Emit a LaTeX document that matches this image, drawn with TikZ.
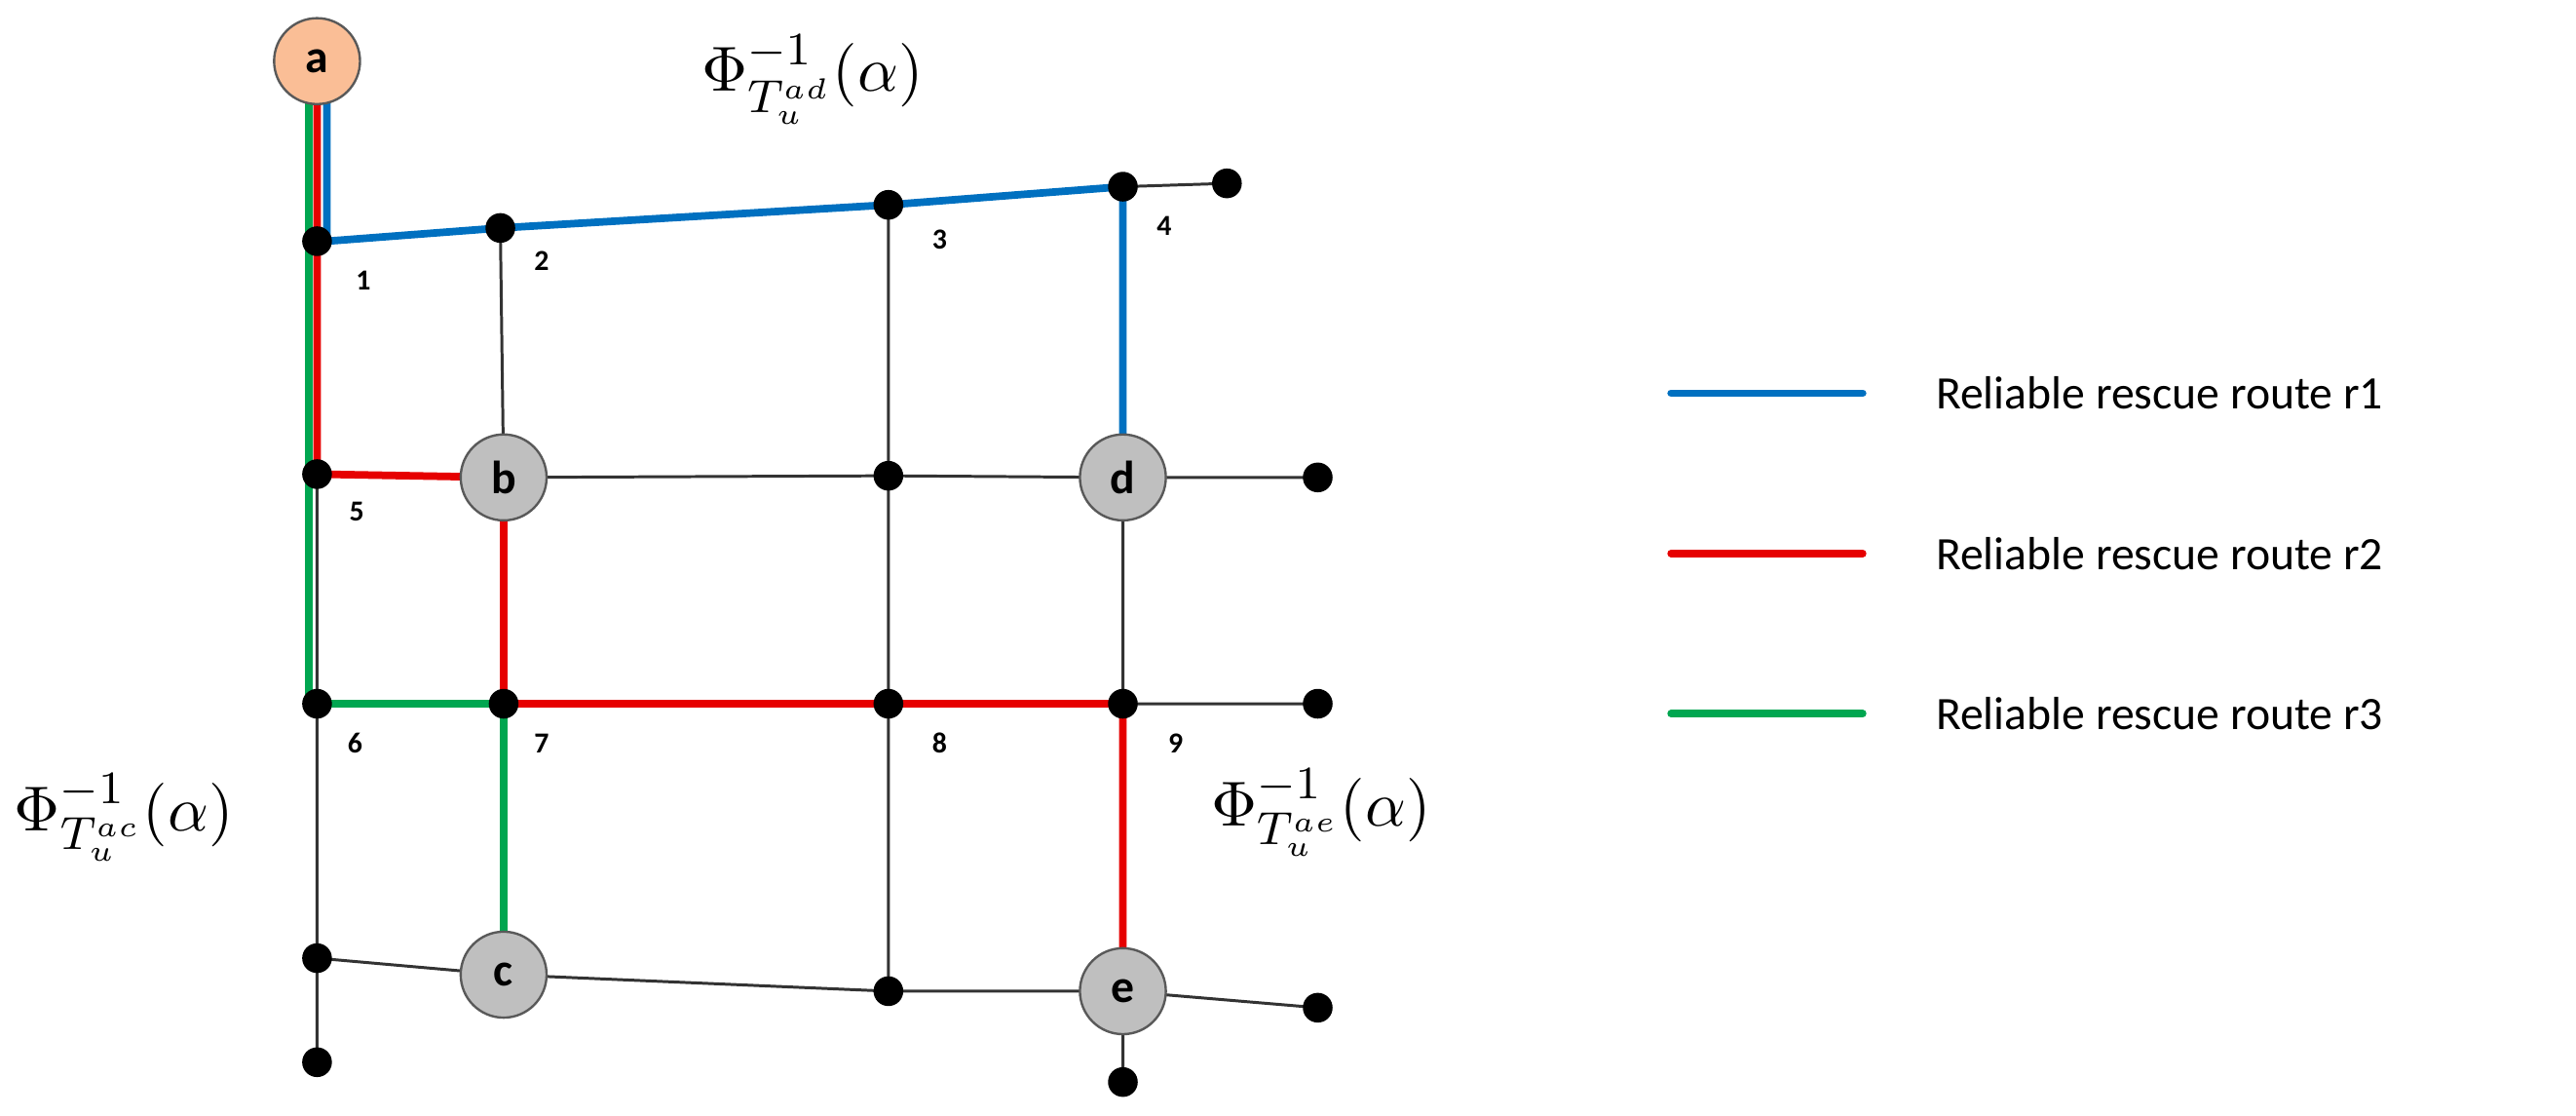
\documentclass[tikz,border=0pt]{standalone}
\usepackage{fontspec}
\setsansfont{Carlito}
\begin{document}
\begin{tikzpicture}[x=0.01cm,y=-0.01cm,
  dot/.style={circle,fill=black,inner sep=0pt,minimum size=0.18cm},
  big/.style={circle,draw=gray!70!black,fill=gray!50,line width=0.4pt,inner sep=0pt,minimum size=0.52cm,font=\sffamily\bfseries\fontsize{8}{9}\selectfont},
  num/.style={font=\sffamily\bfseries\fontsize{5}{6}\selectfont},
  thin/.style={line width=0.5pt,black!80},
  rb/.style={line width=1.3pt,draw={rgb,255:red,0;green,112;blue,192}},
  rr/.style={line width=1.3pt,draw={rgb,255:red,230;green,0;blue,0}},
  rg/.style={line width=1.3pt,draw={rgb,255:red,0;green,166;blue,80}},
  leg/.style={font=\sffamily\fontsize{8}{9}\selectfont,anchor=west}]
\useasboundingbox (0,0) rectangle (1560,675);
% coordinates
\coordinate (n1) at (192,146); \coordinate (n2) at (303,138); \coordinate (n3) at (538,124);
\coordinate (n4) at (680,113); \coordinate (n4x) at (743,111);
\coordinate (n5) at (192,287); \coordinate (b) at (305,289); \coordinate (m) at (538,288);
\coordinate (d) at (680,289); \coordinate (dr) at (798,289);
\coordinate (n6) at (192,426); \coordinate (n7) at (305,426); \coordinate (n8) at (538,426);
\coordinate (n9) at (680,426); \coordinate (n9r) at (798,426);
\coordinate (l4) at (192,580); \coordinate (c) at (305,590); \coordinate (m4) at (538,600);
\coordinate (e) at (680,600); \coordinate (er) at (798,610);
\coordinate (lb) at (192,643); \coordinate (eb) at (680,655);
\coordinate (a) at (192,37);
% thin edges
\draw[thin] (n4)--(n4x) (n2)--(b) (n3)--(m) (b)--(m)--(d)--(dr) (m)--(n8) (d)--(n9) (n9)--(n9r)
 (n5)--(n6)--(l4)--(lb) (l4)--(c)--(m4)--(e)--(er) (n8)--(m4) (e)--(eb);
% routes
\draw[rb] ([xshift=0.06cm]a)--([xshift=0.06cm]n1)--(n2)--(n3)--(n4)--(d);
\draw[rr] (a)--(n5)--(b)--(n7)--(n8)--(n9)--(e);
\draw[rg] ([xshift=-0.05cm]a)--([xshift=-0.05cm]n6)--(n7)--(c);
% nodes
\node[circle,draw=gray!70!black,fill={rgb,255:red,250;green,190;blue,150},inner sep=0pt,minimum size=0.52cm,font=\sffamily\bfseries\fontsize{8}{9}\selectfont] (na) at (a) {a};
\foreach \p in {n1,n2,n3,n4,n4x,n5,m,dr,n6,n7,n8,n9,n9r,l4,m4,er,lb,eb}
  \node[dot] (d\p) at (\p) {};
\node[big] (nb) at (b) {b};
\node[big] (nd) at (d) {d};
\node[big] (nc) at (c) {c};
\node[big] (ne) at (e) {e};
% numbers
\node[num] (t1) at (220,170) {1}; \node[num] (t2) at (328,158) {2};
\node[num] (t3) at (569,145) {3}; \node[num] (t4) at (705,137) {4};
\node[num] (t5) at (216,310) {5}; \node[num] (t6) at (215,450) {6};
\node[num] (t7) at (328,450) {7}; \node[num] (t8) at (569,450) {8};
\node[num] (t9) at (712,450) {9};
% math labels
\node[font=\fontsize{11}{12}\selectfont] (pad) at (492,48) {$\Phi^{-1}_{T_u^{ad}}(\alpha)$};
\node[font=\fontsize{11}{12}\selectfont] (pac) at (75,495) {$\Phi^{-1}_{T_u^{ac}}(\alpha)$};
\node[font=\fontsize{11}{12}\selectfont] (pae) at (800,492) {$\Phi^{-1}_{T_u^{ae}}(\alpha)$};
% legend
\coordinate (l1a) at (1012,238); \coordinate (l1b) at (1128,238);
\coordinate (l2a) at (1012,335); \coordinate (l2b) at (1128,335);
\coordinate (l3a) at (1012,432); \coordinate (l3b) at (1128,432);
\draw[rb,line cap=round] (l1a)--(l1b);
\draw[rr,line cap=round] (l2a)--(l2b);
\draw[rg,line cap=round] (l3a)--(l3b);
\node[leg] (g1) at (1160,238) {Reliable rescue route r1};
\node[leg] (g2) at (1160,335) {Reliable rescue route r2};
\node[leg] (g3) at (1160,432) {Reliable rescue route r3};
\end{tikzpicture}
\end{document}
